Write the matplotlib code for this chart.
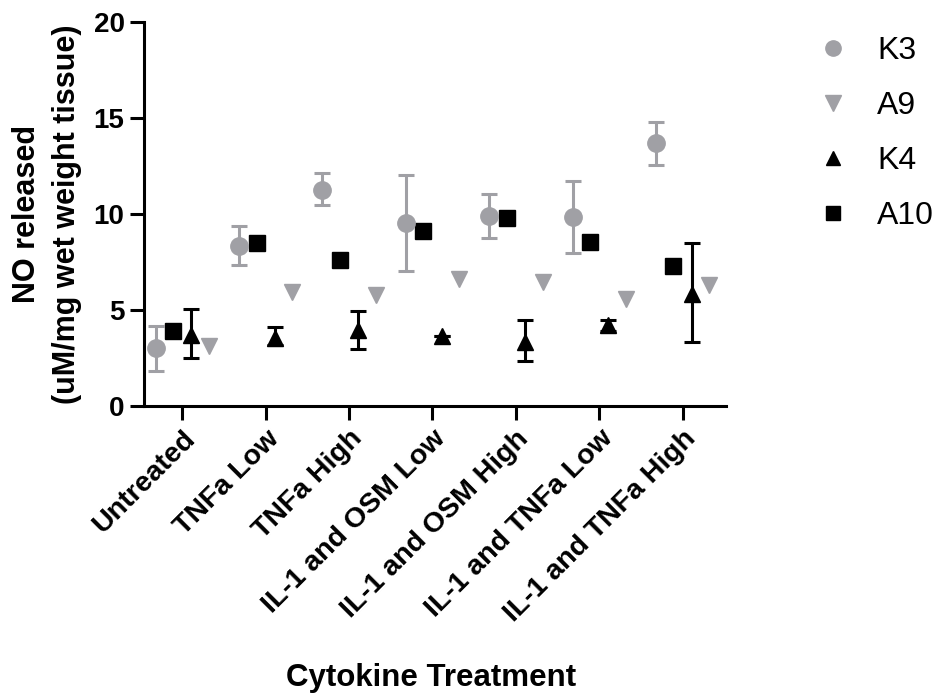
import matplotlib
matplotlib.use('Agg')
import matplotlib.pyplot as plt
from matplotlib.lines import Line2D
import numpy as np

plt.rcParams['font.family'] = ['Liberation Sans', 'DejaVu Sans']

categories = ['Untreated', 'TNFa Low', 'TNFa High', 'IL-1 and OSM Low',
              'IL-1 and OSM High', 'IL-1 and TNFa Low', 'IL-1 and TNFa High']

# means
k3 = [3.0, 8.35, 11.27, 9.52, 9.9, 9.85, 13.69]
k3_lo = [1.8, 7.35, 10.47, 7.02, 8.74, 7.95, 12.57]
k3_hi = [4.18, 9.38, 12.13, 12.02, 11.05, 11.7, 14.81]
a10 = [3.92, 8.49, 7.6, 9.09, 9.78, 8.52, 7.31]
k4 = [3.7, 3.52, 3.95, 3.64, 3.35, 4.21, 5.85]
k4_lo = [2.52, 3.2, 2.97, 3.64, 2.34, 3.9, 3.35]
k4_hi = [5.04, 4.12, 4.94, 3.64, 4.47, 4.5, 8.47]
a9 = [3.13, 5.93, 5.76, 6.63, 6.45, 5.59, 6.28]

GREY = '#a0a0a5'
x = np.arange(len(categories))

fig = plt.figure(figsize=(9.36, 6.93), dpi=100)
ax = fig.add_axes([0.1538, 0.4141, 0.7756 - 0.1538, 0.9683 - 0.4141])

def errs(m, lo, hi):
    m = np.array(m); lo = np.array(lo); hi = np.array(hi)
    return [m - lo, hi - m]

ax.errorbar(x - 0.32, k3, yerr=errs(k3, k3_lo, k3_hi), fmt='o', color=GREY,
            ms=12.5, elinewidth=2.2, capsize=6, capthick=2.2, zorder=3)
ax.plot(x + 0.32, a9, 'v', color=GREY, ms=12, ls='none', zorder=3)
ax.errorbar(x + 0.11, k4, yerr=errs(k4, k4_lo, k4_hi), fmt='^', color='black',
            ms=11, elinewidth=2.2, capsize=6, capthick=2.2, zorder=4)
ax.plot(x - 0.11, a10, 's', color='black', ms=11.5, ls='none', zorder=3)

ax.set_xlim(-0.46, 6.52)
ax.set_ylim(0, 20)
ax.set_yticks([0, 5, 10, 15, 20])
ax.set_xticks(x)
ax.set_xticklabels(categories, rotation=45, ha='right', rotation_mode='anchor',
                   fontsize=20.5, fontweight='bold')
for lab in ax.get_yticklabels():
    lab.set_fontsize(20)
    lab.set_fontweight('bold')

for s in ['top', 'right']:
    ax.spines[s].set_visible(False)
for s in ['left', 'bottom']:
    ax.spines[s].set_linewidth(2.2)
ax.tick_params(axis='both', direction='out', length=10, width=2.2, pad=4)

ax.set_ylabel('NO released\n(uM/mg wet weight tissue)', fontsize=22,
              fontweight='bold', linespacing=1.45)
ax.yaxis.set_label_coords(-0.106, 0.5)
ax.set_xlabel('Cytokine Treatment', fontsize=22.5, fontweight='bold')
ax.xaxis.set_label_coords(0.493, -0.668)

handles = [Line2D([], [], marker='o', color=GREY, ls='none', ms=11),
           Line2D([], [], marker='v', color=GREY, ls='none', ms=11),
           Line2D([], [], marker='^', color='black', ls='none', ms=10),
           Line2D([], [], marker='s', color='black', ls='none', ms=10)]
labels = ['K3', 'A9', 'K4', 'A10']
fig.legend(handles, labels, loc='upper left', bbox_to_anchor=(0.873, 0.948),
           frameon=False, fontsize=23, labelspacing=0.78, handletextpad=0.875,
           handlelength=1.0, borderpad=0, borderaxespad=0)

fig.savefig('out.png', dpi=100)
